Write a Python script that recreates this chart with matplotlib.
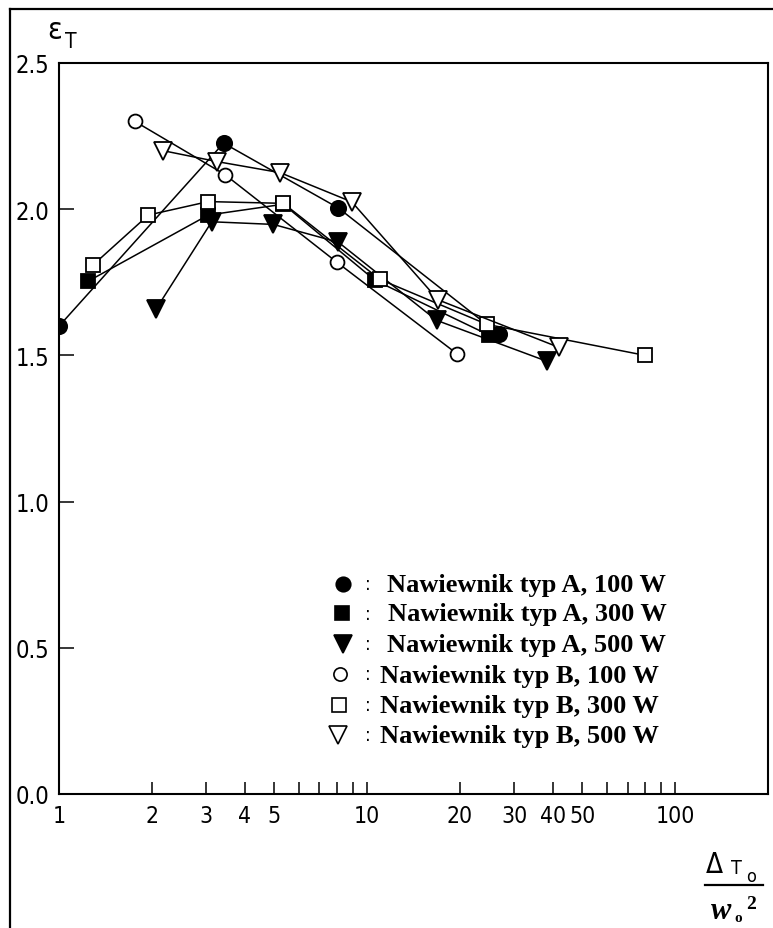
import matplotlib
matplotlib.use("Agg")
import matplotlib.pyplot as plt
from matplotlib.lines import Line2D

W, H = 773, 929

# measured points, epsilon_T against delta_T0 / w0^2
a100_x = [1.0, 3.42, 8.07, 26.7]
a100_y = [1.60, 2.226, 2.004, 1.574]
a300_x = [1.245, 3.05, 5.35, 10.6, 24.8]
a300_y = [1.754, 1.98, 2.017, 1.757, 1.57]
a500_x = [2.07, 3.13, 4.96, 8.07, 16.8, 38.3]
a500_y = [1.66, 1.957, 1.948, 1.887, 1.62, 1.48]
b100_x = [1.765, 3.46, 7.97, 19.6]
b100_y = [2.30, 2.118, 1.819, 1.505]
b300_x = [1.286, 1.95, 3.05, 5.35, 11.0, 24.5, 79.9]
b300_y = [1.808, 1.98, 2.026, 2.02, 1.76, 1.606, 1.50]
b500_x = [2.18, 3.25, 5.22, 8.92, 17.0, 41.8]
b500_y = [2.20, 2.163, 2.125, 2.025, 1.69, 1.528]

labels = [
    "Nawiewnik typ A, 100 W",
    "Nawiewnik typ A, 300 W",
    "Nawiewnik typ A, 500 W",
    "Nawiewnik typ B, 100 W",
    "Nawiewnik typ B, 300 W",
    "Nawiewnik typ B, 500 W",
]

x_ticks = [1, 2, 3, 4, 5, 6, 7, 8, 9, 10, 20, 30, 40, 50, 60, 70, 80, 90, 100]
x_tick_labels = ["1", "2", "3", "4", "5", "", "", "", "", "10",
                 "20", "30", "40", "50", "", "", "", "", "100"]
y_ticks = [0.0, 0.5, 1.0, 1.5, 2.0, 2.5]
y_tick_labels = ["0.0", "0.5", "1.0", "1.5", "2.0", "2.5"]

series = [
    (a100_x, a100_y, "o", "black", 11),
    (a300_x, a300_y, "s", "black", 10),
    (a500_x, a500_y, "v", "black", 13),
    (b100_x, b100_y, "o", "white", 10),
    (b300_x, b300_y, "s", "white", 10),
    (b500_x, b500_y, "v", "white", 13),
]


def fpos(px, py):
    """pixel position (from top-left) -> figure fraction"""
    return px / W, 1 - py / H


plt.rcParams["font.family"] = "DejaVu Sans"
plt.rcParams["font.stretch"] = "condensed"

fig = plt.figure(figsize=(W / 100, H / 100), dpi=100)
ax = fig.add_axes([59 / W, (H - 795) / H, 709 / W, 731 / H])

for xs, ys, m, fc, ms in series:
    ax.plot(xs, ys, color="black", lw=1.1, marker=m, ms=ms,
            mfc=fc, mec="black", mew=1.3)

ax.set_xscale("log")
ax.set_xlim(1, 200)
ax.set_ylim(0, 2.5)
ax.set_xticks(x_ticks)
ax.set_xticklabels(x_tick_labels)
ax.xaxis.set_minor_locator(plt.NullLocator())
ax.set_yticks(y_ticks)
ax.set_yticklabels(y_tick_labels)

for s in ax.spines.values():
    s.set_linewidth(1.5)
ax.tick_params(axis="x", direction="in", length=9, width=1.1,
               labelsize=16.5, pad=7)
ax.tick_params(axis="y", direction="in", length=11, width=1.1,
               labelsize=17, pad=7)

# y-axis symbol
fig.text(*fpos(47, 39), "ε", fontsize=22, ha="left", va="baseline")
fig.text(*fpos(65, 48), "T", fontsize=15, ha="left", va="baseline")

# x-axis quantity as a fraction in the lower right corner
fig.text(*fpos(706, 873), "Δ", fontsize=20, ha="left", va="baseline")
fig.text(*fpos(731, 874), "T", fontsize=14, ha="left", va="baseline")
fig.text(*fpos(746, 882), "o", fontsize=13, ha="left", va="baseline")
fig.add_artist(Line2D([705 / W, 763 / W], [1 - 886 / H, 1 - 886 / H],
                      color="black", lw=1.6, transform=fig.transFigure))
fig.text(*fpos(711, 919), "w", fontsize=22, family="Liberation Serif",
         weight="bold", style="italic", ha="left", va="baseline")
fig.text(*fpos(734, 922), "o", fontsize=11, family="Liberation Serif",
         weight="bold", ha="left", va="baseline")
fig.text(*fpos(746, 909), "2", fontsize=14, family="Liberation Serif",
         weight="bold", ha="left", va="baseline")

# key, drawn by hand inside the plot area
key_rows = [585, 614, 645, 675, 706, 736]
key_mx = [343, 342, 343, 340, 339, 338]
key_tx = [387, 388, 387, 380, 380, 380]
for (xs, ys, m, fc, ms), lab, ry, mx, tx in zip(series, labels, key_rows,
                                                  key_mx, key_tx):
    kx, ky = fpos(mx, ry)
    fig.add_artist(Line2D([kx], [ky], marker=m, ms=ms * 0.95, mfc=fc,
                          mec="black", mew=1.2, ls="none",
                          transform=fig.transFigure))
    fig.text(*fpos(368, ry), ":", fontsize=14, ha="center", va="center")
    fig.text(*fpos(tx, ry + 1), lab, fontsize=19, family="Liberation Serif",
             weight="bold", ha="left", va="center")

# outer frame along the top and left edges
fig.add_artist(Line2D([9.5 / W, 9.5 / W], [0, 1 - 10 / H], color="black",
                      lw=1.6, transform=fig.transFigure))
fig.add_artist(Line2D([9.5 / W, 1], [1 - 10 / H, 1 - 10 / H], color="black",
                      lw=1.6, transform=fig.transFigure))

fig.savefig("out.png", dpi=100)
